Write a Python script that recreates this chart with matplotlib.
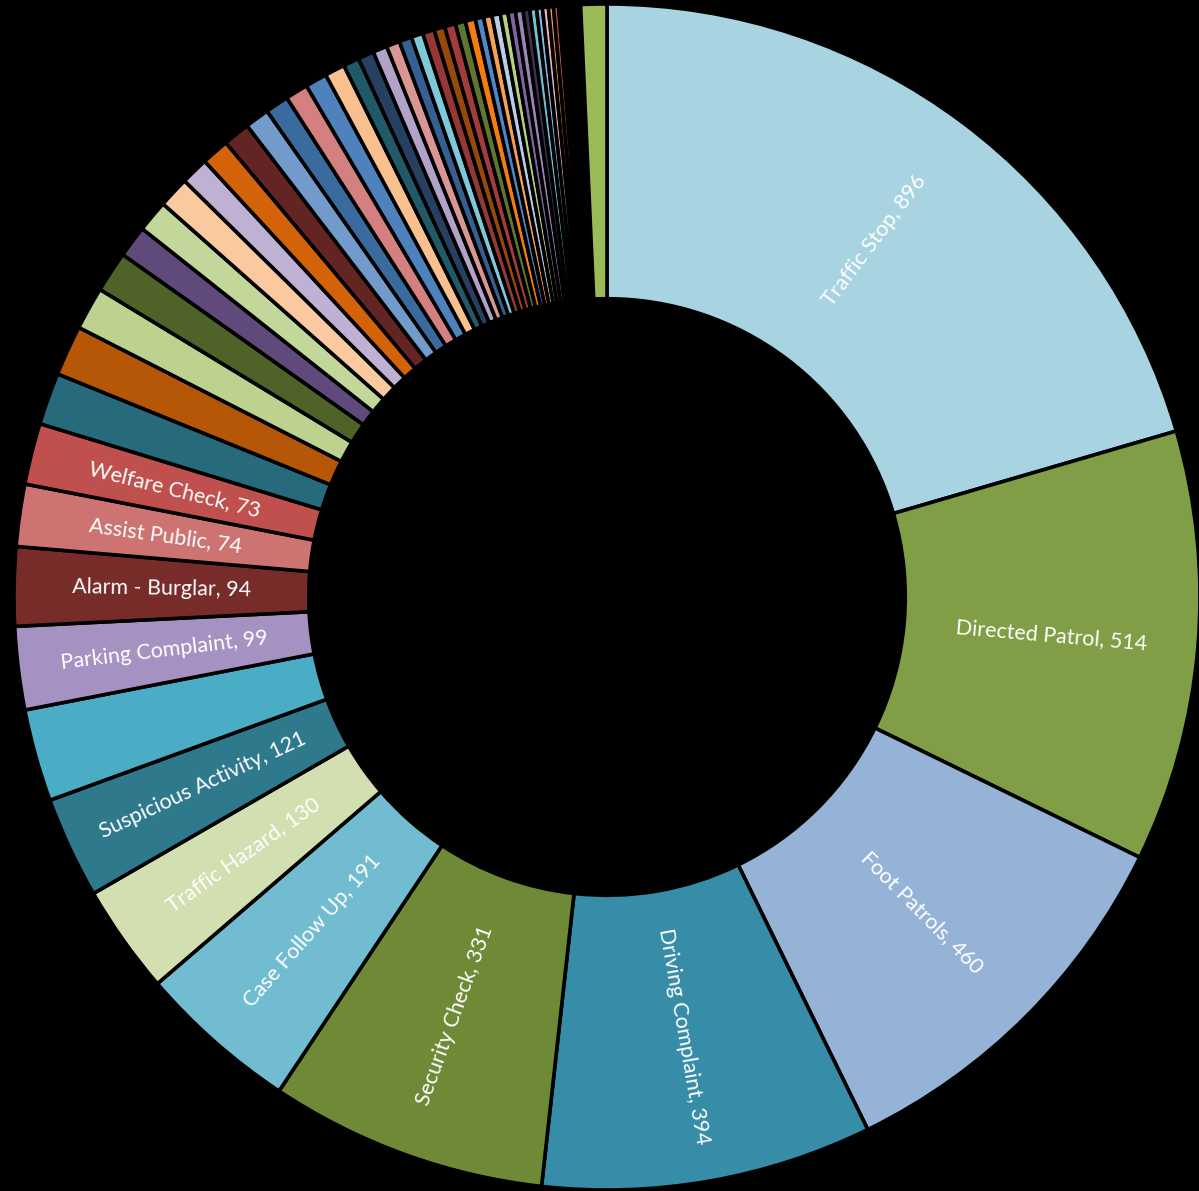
import numpy as np
import matplotlib
matplotlib.use("Agg")
import matplotlib.pyplot as plt

# ---- data (clockwise from 12 o'clock) ----
categories = [
    "Traffic Stop", "Directed Patrol", "Foot Patrols", "Driving Complaint",
    "Security Check", "Case Follow Up", "Traffic Hazard", "Suspicious Activity",
    "", "Parking Complaint", "Alarm - Burglar", "Assist Public", "Welfare Check",
] + [""] * 48

values = [
    896, 514, 460, 394, 331, 191, 130, 121, 110, 99, 94, 74, 73,
    62, 60, 51, 49, 38, 38, 37, 33, 33, 32, 29, 28, 27, 26, 24, 19, 19, 17,
    16, 15, 14, 14, 13, 13, 12, 12, 10, 10, 10, 9, 9, 9, 8, 8, 7, 7, 6, 6,
    4, 3, 3, 3, 3, 3, 3, 2, 2,
    31,
]

colors = [
    "#A7D4E0", "#7F9E45", "#95B3D7", "#378DA8", "#6E8A37", "#71BCD0",
    "#D2DFB0", "#2E7A8C", "#4BACC6", "#A592C2", "#772C2A", "#CD7371", "#C0504D",
    "#276A7C", "#B65708", "#BCD28E", "#4F6228", "#604A7B", "#C4D79B", "#FAC9A0",
    "#BFB1D3", "#D46208", "#632523", "#729ACA", "#3A6A9E", "#D48080", "#4F81BD",
    "#F9C08F", "#215968", "#254061", "#B3A2C7",
    "#D99694", "#376092", "#7FC8D9", "#953735", "#984807", "#A33B3B", "#5F7530",
    "#F47C10", "#4F86C6", "#F9A050", "#B9CDE5", "#B7D17E", "#8064A2", "#9A85B8",
    "#403152", "#72C2D6", "#8DB3E2", "#E6B9B8", "#F79646", "#C0504D",
    "#10253F", "#3B1211", "#2A3415", "#201829", "#11303A", "#4F2604",
    "#1F3A5F", "#3F1A19", "#26301A",
    "#9BBB59",
]

# ---- figure ----
W, H, DPI = 1199, 1191, 100
fig = plt.figure(figsize=(W / DPI, H / DPI), dpi=DPI, facecolor="black")
ax = fig.add_axes([0, 0, 1, 1])
ax.set_facecolor("black")
ax.axis("off")

cx, cy, R = 607, 597, 593  # pixel geometry of the ring

ring_w = 0.497
wedges, _ = ax.pie(
    values, colors=colors, startangle=90, counterclock=False,
    radius=1.0, center=(0, 0),
    wedgeprops=dict(width=ring_w, edgecolor="black", linewidth=2.6),
)
ax.set_xlim(-cx / R, (W - cx) / R)
ax.set_ylim(-(H - cy) / R, cy / R)
ax.set_aspect("auto")

total = float(sum(values))
cum = np.cumsum([0] + values)
r_lab = 1.0 - ring_w / 2
for i, name in enumerate(categories):
    if not name:
        continue
    mid = (cum[i] + cum[i + 1]) / 2 / total * 360.0  # clockwise from top
    theta = 90.0 - mid
    x = r_lab * np.cos(np.radians(theta))
    y = r_lab * np.sin(np.radians(theta))
    rot = theta if mid <= 180 else theta + 180
    ax.text(x, y, f"{name}, {values[i]}", color="white", fontsize=15.5,
            family=["Lato", "DejaVu Sans"], rotation=rot,
            rotation_mode="anchor", ha="center", va="center")

fig.savefig("out.png", dpi=DPI, facecolor="black")
